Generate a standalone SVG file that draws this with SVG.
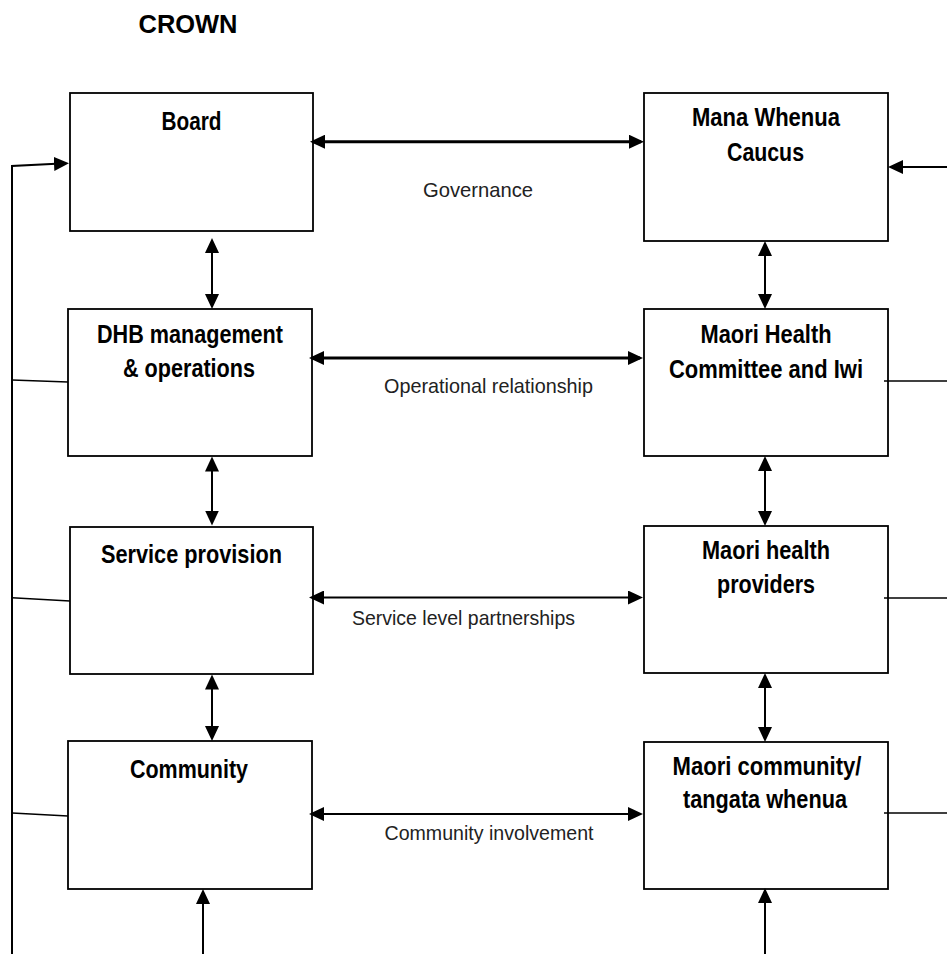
<svg xmlns="http://www.w3.org/2000/svg" width="947" height="954" viewBox="0 0 947 954">
<style>
  .box { fill: #fff; stroke: #000; stroke-width: 1.8; }
  .lbl { font-family: "Liberation Sans Narrow", "Liberation Sans", Arial, sans-serif; font-weight: bold; font-size: 26px; fill: #000; text-anchor: middle; }
  .rel { font-family: "Liberation Sans Narrow", "Liberation Sans", Arial, sans-serif; font-size: 21px; fill: #222; text-anchor: middle; }
  .thick { fill: none; stroke: #000; stroke-width: 3; }
  .mid { fill: none; stroke: #000; stroke-width: 2; }
  .thin { fill: none; stroke: #000; stroke-width: 1.4; }
</style>
<defs>
  <marker id="ah" markerUnits="userSpaceOnUse" markerWidth="15" markerHeight="14" refX="12" refY="7" orient="auto-start-reverse" viewBox="0 0 15 14">
    <path d="M0,0 L15,7 L0,14 z" fill="#000"/>
  </marker>
</defs>
<rect width="947" height="954" fill="#fff"/>

<g id="crown-title">
  <text class="lbl" x="188" y="33" textLength="99" lengthAdjust="spacingAndGlyphs">CROWN</text>
</g>

<g id="board">
  <rect class="box" x="70" y="93" width="243" height="138"/>
  <text class="lbl" x="191.5" y="130" textLength="60" lengthAdjust="spacingAndGlyphs">Board</text>
</g>
<g id="mana-whenua">
  <rect class="box" x="644" y="93" width="244" height="148"/>
  <text class="lbl" x="766" y="126" textLength="148" lengthAdjust="spacingAndGlyphs">Mana Whenua</text>
  <text class="lbl" x="765.5" y="161" textLength="77" lengthAdjust="spacingAndGlyphs">Caucus</text>
</g>
<g id="dhb">
  <rect class="box" x="68" y="309" width="244" height="147"/>
  <text class="lbl" x="190" y="343" textLength="186" lengthAdjust="spacingAndGlyphs">DHB management</text>
  <text class="lbl" x="189" y="377" textLength="132" lengthAdjust="spacingAndGlyphs">&amp; operations</text>
</g>
<g id="maori-health">
  <rect class="box" x="644" y="309" width="244" height="147"/>
  <text class="lbl" x="766" y="343" textLength="131" lengthAdjust="spacingAndGlyphs">Maori Health</text>
  <text class="lbl" x="766" y="378" textLength="194" lengthAdjust="spacingAndGlyphs">Committee and Iwi</text>
</g>
<g id="service">
  <rect class="box" x="70" y="527" width="243" height="147"/>
  <text class="lbl" x="191.5" y="563" textLength="181" lengthAdjust="spacingAndGlyphs">Service provision</text>
</g>
<g id="providers">
  <rect class="box" x="644" y="526" width="244" height="147"/>
  <text class="lbl" x="766" y="559" textLength="128" lengthAdjust="spacingAndGlyphs">Maori health</text>
  <text class="lbl" x="766" y="593" textLength="98" lengthAdjust="spacingAndGlyphs">providers</text>
</g>
<g id="community">
  <rect class="box" x="68" y="741" width="244" height="148"/>
  <text class="lbl" x="189" y="778" textLength="118" lengthAdjust="spacingAndGlyphs">Community</text>
</g>
<g id="maori-community">
  <rect class="box" x="644" y="742" width="244" height="147"/>
  <text class="lbl" x="767" y="775" textLength="189" lengthAdjust="spacingAndGlyphs">Maori community/</text>
  <text class="lbl" x="765" y="808" textLength="164" lengthAdjust="spacingAndGlyphs">tangata whenua</text>
</g>

<g id="connectors">
  <!-- horizontal relationships -->
  <path class="thick" d="M313,141.7 L641,141.7" marker-start="url(#ah)" marker-end="url(#ah)"/>
  <path class="thick" d="M312,358 L640,358" marker-start="url(#ah)" marker-end="url(#ah)"/>
  <path class="mid" d="M312,597.5 L640,597.5" marker-start="url(#ah)" marker-end="url(#ah)"/>
  <path class="mid" d="M312,814 L640,814" marker-start="url(#ah)" marker-end="url(#ah)"/>
  <!-- vertical left column -->
  <path class="mid" d="M212,241 L212,306" marker-start="url(#ah)" marker-end="url(#ah)"/>
  <path class="mid" d="M212,459.5 L212,522.5" marker-start="url(#ah)" marker-end="url(#ah)"/>
  <path class="mid" d="M212,677.5 L212,738" marker-start="url(#ah)" marker-end="url(#ah)"/>
  <path class="mid" d="M203,954 L203,892" marker-end="url(#ah)"/>
  <!-- vertical right column -->
  <path class="mid" d="M765,244 L765,306" marker-start="url(#ah)" marker-end="url(#ah)"/>
  <path class="mid" d="M765,459 L765,523" marker-start="url(#ah)" marker-end="url(#ah)"/>
  <path class="mid" d="M765,676 L765,739" marker-start="url(#ah)" marker-end="url(#ah)"/>
  <path class="mid" d="M765,954 L765,891" marker-end="url(#ah)"/>
  <!-- left frame -->
  <path class="mid" d="M12,954 L12,166 L66,163.3" marker-end="url(#ah)"/>
  <path class="thin" d="M12,380 L68,382"/>
  <path class="thin" d="M12,597.7 L70,601"/>
  <path class="thin" d="M12,813 L68,816"/>
  <!-- right frame -->
  <path class="mid" d="M947,167 L891,167" marker-end="url(#ah)"/>
  <path class="thin" d="M884,381 L947,381"/>
  <path class="thin" d="M884,598 L947,598"/>
  <path class="thin" d="M884,813 L947,813"/>
</g>

<g id="labels">
  <text class="rel" x="478" y="197" textLength="110" lengthAdjust="spacingAndGlyphs">Governance</text>
  <text class="rel" x="488.5" y="393" textLength="209" lengthAdjust="spacingAndGlyphs">Operational relationship</text>
  <text class="rel" x="463.5" y="625" textLength="223" lengthAdjust="spacingAndGlyphs">Service level partnerships</text>
  <text class="rel" x="489" y="840" textLength="209" lengthAdjust="spacingAndGlyphs">Community involvement</text>
</g>
</svg>
